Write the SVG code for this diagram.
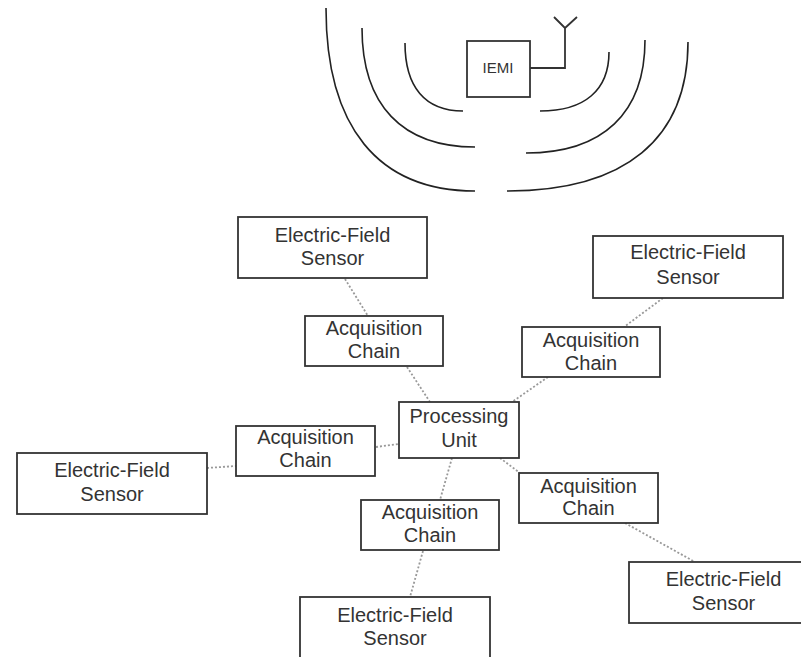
<svg xmlns="http://www.w3.org/2000/svg" width="801" height="657" viewBox="0 0 801 657">
<style>
.box{fill:#fff;stroke:#333;stroke-width:1.8}
.t{font-family:"Liberation Sans",Arial,sans-serif;font-size:20px;fill:#333;text-anchor:middle}
.wave{fill:none;stroke:#222;stroke-width:1.6}
.conn{fill:none;stroke:#999;stroke-width:1.8;stroke-dasharray:2 2}
</style>
<rect width="801" height="657" fill="#fff"/>
<g id="waves">
<path class="wave" d="M405,43 C405,87 425,111 463,111"/>
<path class="wave" d="M362,28 C362,105 402,147 475,147"/>
<path class="wave" d="M326,8 C326,127 378,191 475,191"/>
<path class="wave" d="M609,52 C609,90 585,111 540,111"/>
<path class="wave" d="M645,40 C645,113 603,153 526,153"/>
<path class="wave" d="M688,42 C688,139 625,191 507,191"/>
</g>
<g id="iemi">
<rect class="box" x="467" y="41" width="63" height="56"/>
<text class="t" x="498" y="73" style="font-size:15px">IEMI</text>
<path d="M530,68 H565 V28 M565,28 L554,17 M565,28 L577,17" fill="none" stroke="#333" stroke-width="1.8"/>
</g>
<g id="connectors">
<line class="conn" x1="345" y1="279" x2="368" y2="316"/>
<line class="conn" x1="407" y1="367" x2="430" y2="402"/>
<line class="conn" x1="663" y1="298" x2="624" y2="327"/>
<line class="conn" x1="548" y1="377" x2="512" y2="402"/>
<line class="conn" x1="376" y1="447" x2="399" y2="444"/>
<line class="conn" x1="207" y1="468" x2="236" y2="466"/>
<line class="conn" x1="452" y1="458" x2="440" y2="500"/>
<line class="conn" x1="500" y1="458" x2="520" y2="473"/>
<line class="conn" x1="423" y1="551" x2="410" y2="597"/>
<line class="conn" x1="625" y1="523" x2="695" y2="562"/>
</g>
<g id="sensor-tl">
<rect class="box" x="238" y="217" width="189" height="61"/>
<text class="t" x="332.5" y="242">Electric-Field</text>
<text class="t" x="332.5" y="265">Sensor</text>
</g>
<g id="sensor-tr">
<rect class="box" x="593" y="236" width="190" height="62"/>
<text class="t" x="688" y="259">Electric-Field</text>
<text class="t" x="688" y="284">Sensor</text>
</g>
<g id="sensor-l">
<rect class="box" x="17" y="453" width="190" height="61"/>
<text class="t" x="112" y="477">Electric-Field</text>
<text class="t" x="112" y="501">Sensor</text>
</g>
<g id="sensor-br">
<rect class="box" x="629" y="562" width="189" height="61"/>
<text class="t" x="723.5" y="586">Electric-Field</text>
<text class="t" x="723.5" y="610">Sensor</text>
</g>
<g id="sensor-b">
<rect class="box" x="300" y="597" width="190" height="61"/>
<text class="t" x="395" y="622">Electric-Field</text>
<text class="t" x="395" y="645">Sensor</text>
</g>
<g id="acq-t">
<rect class="box" x="305" y="316" width="138" height="50"/>
<text class="t" x="374" y="335">Acquisition</text>
<text class="t" x="374" y="358">Chain</text>
</g>
<g id="acq-tr">
<rect class="box" x="522" y="327" width="138" height="50"/>
<text class="t" x="591" y="347">Acquisition</text>
<text class="t" x="591" y="370">Chain</text>
</g>
<g id="acq-l">
<rect class="box" x="236" y="426" width="139" height="50"/>
<text class="t" x="305.5" y="444">Acquisition</text>
<text class="t" x="305.5" y="467">Chain</text>
</g>
<g id="acq-b">
<rect class="box" x="361" y="500" width="138" height="50"/>
<text class="t" x="430" y="519">Acquisition</text>
<text class="t" x="430" y="542">Chain</text>
</g>
<g id="acq-br">
<rect class="box" x="519" y="473" width="139" height="50"/>
<text class="t" x="588.5" y="493">Acquisition</text>
<text class="t" x="588.5" y="515">Chain</text>
</g>
<g id="processing">
<rect class="box" x="399" y="402" width="120" height="56"/>
<text class="t" x="459" y="423">Processing</text>
<text class="t" x="459" y="447">Unit</text>
</g>
</svg>
